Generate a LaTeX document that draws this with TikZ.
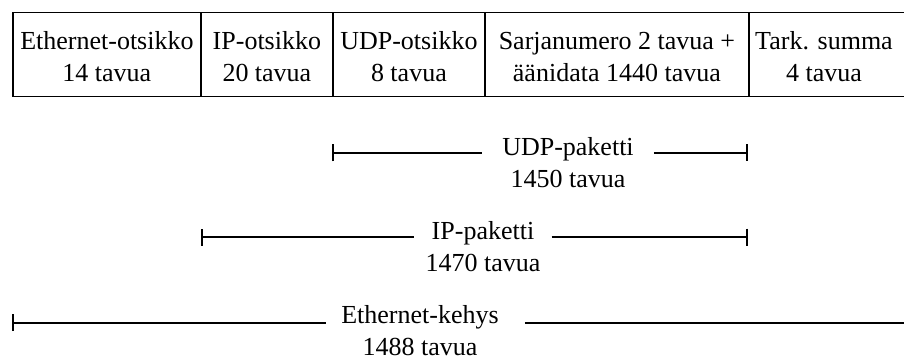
\documentclass[tikz,border=0pt]{standalone}
\usepackage{fontspec}
\setmainfont{Liberation Serif}
\usetikzlibrary{arrows.meta}
\begin{document}
\begin{tikzpicture}[x=1pt, y=-1pt,
  cell/.style={draw, line width=1.8pt, anchor=north west, minimum height=84pt, inner sep=0pt},
  celltext/.style={anchor=north, inner sep=0pt, align=center, font=\fontsize{26}{32}\selectfont},
  span/.style={anchor=north, inner ysep=0pt, align=center, font=\fontsize{26}{32}\selectfont},
  dim/.style={line width=1.8pt},
  endbar/.tip={Bar[width=17pt]}
]
\useasboundingbox (0,0) rectangle (904,358);
\clip (0,0) rectangle (904,358);

% frame layout: one cell per field
\node[cell, minimum width=188pt] (ethh) at (12,11.7) {};
\node[cell, minimum width=132pt] (iph)  at (200,11.7) {};
\node[cell, minimum width=152pt] (udph) at (332,11.7) {};
\node[cell, minimum width=264pt] (data) at (484,11.7) {};
\node[cell, minimum width=170pt] (fcs)  at (748,11.7) {};

\coordinate (row) at (0,31.7);
\coordinate (fcsmid) at (824,0);
\node[celltext] (ethhT) at (ethh.center |- row) {Ethernet-otsikko\\14 tavua};
\node[celltext] (iphT)  at (iph.center |- row)  {IP-otsikko\\20 tavua};
\node[celltext] (udphT) at (udph.center |- row) {UDP-otsikko\\8 tavua};
\node[celltext] (dataT) at (data.center |- row) {Sarjanumero 2 tavua +\\äänidata 1440 tavua};
\node[celltext] (fcsT)  at (fcsmid |- row)      {Tark. summa\\4 tavua};

% UDP packet span
\coordinate (udpL) at (332,153);
\coordinate (udpR) at (748,153);
\node[span, inner xsep=20pt] (udp) at (568,136.8) {UDP-paketti\\1450 tavua};
\draw[dim, endbar-] (udpL) -- (udpL -| udp.west);
\draw[dim, -endbar] (udpR -| udp.east) -- (udpR);

% IP packet span
\coordinate (ipL) at (201,237);
\coordinate (ipR) at (748,237);
\node[span, inner xsep=11pt] (ip) at (483,220.8) {IP-paketti\\1470 tavua};
\draw[dim, endbar-] (ipL) -- (ipL -| ip.west);
\draw[dim, -endbar] (ipR -| ip.east) -- (ipR);

% Ethernet frame span
\coordinate (ethL) at (12,322.7);
\coordinate (ethR) at (910,322.7);
\node[span, inner xsep=15pt] (eth) at (420,305) {Ethernet-kehys\\1488 tavua};
\coordinate (ethgap) at ([xshift=11pt]eth.east);
\draw[dim, endbar-] (ethL) -- (ethL -| eth.west);
\draw[dim] (ethgap |- ethL) -- (ethR);
\end{tikzpicture}
\end{document}
